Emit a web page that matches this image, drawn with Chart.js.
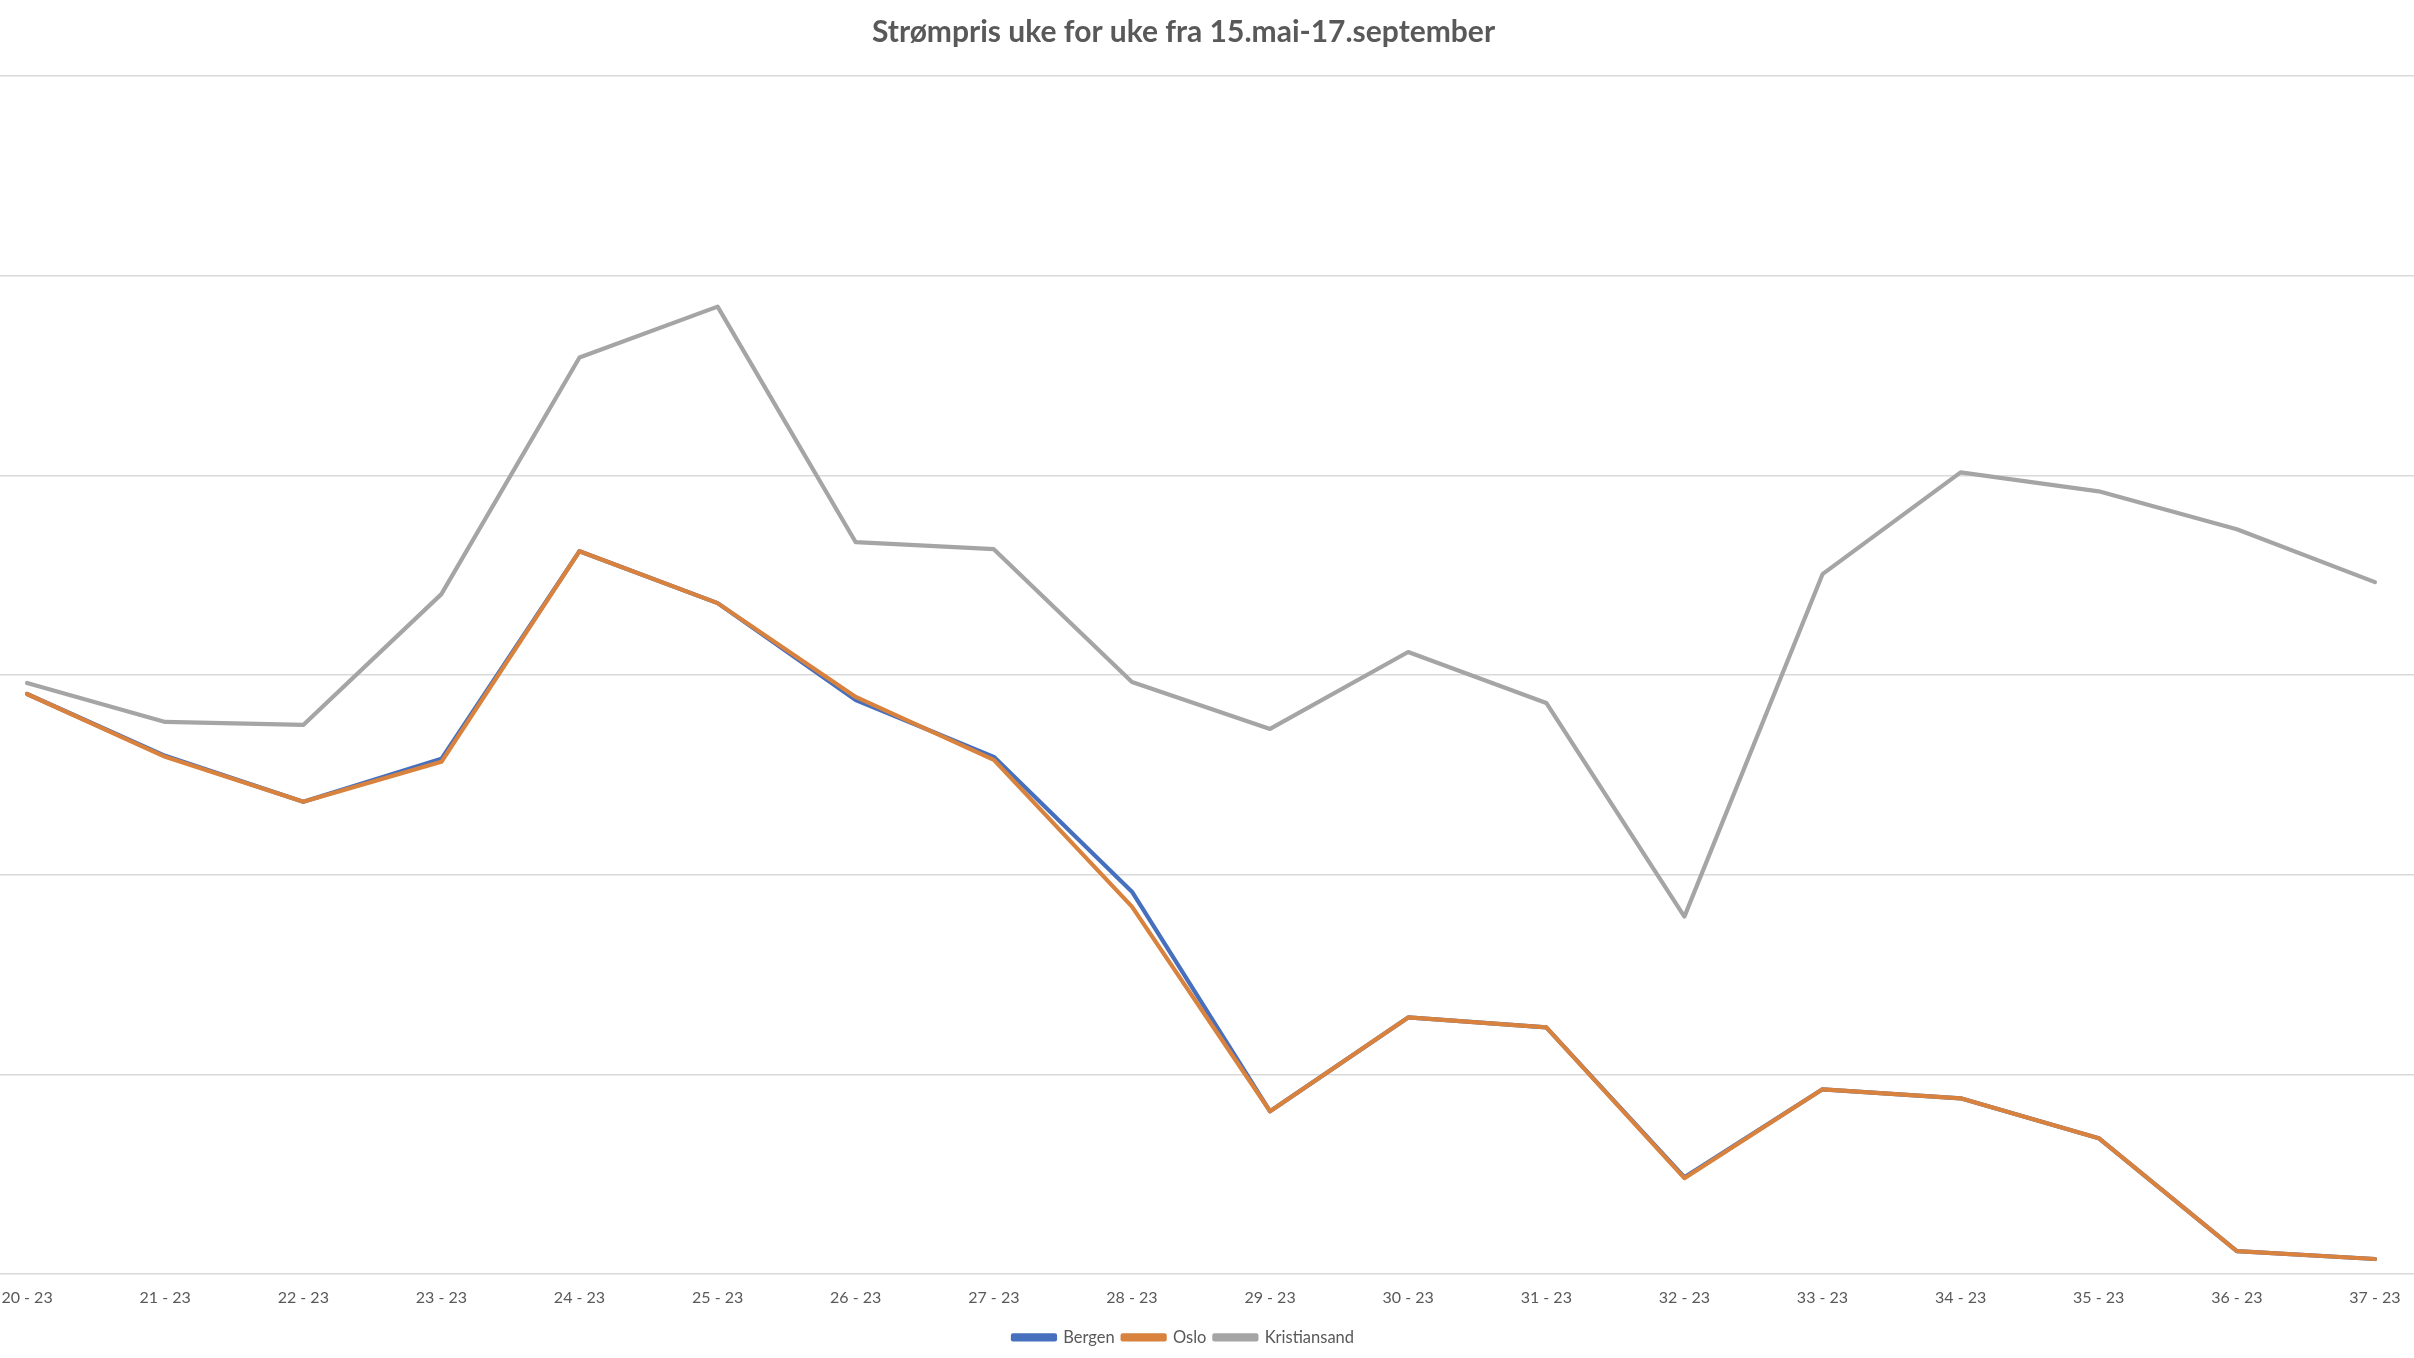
<!DOCTYPE html>
<html>
<head>
<meta charset="utf-8">
<script src="https://cdn.jsdelivr.net/npm/chart.js@4/dist/chart.umd.min.js"></script>
<style>
  html, body { margin: 0; padding: 0; background: #ffffff; overflow: hidden; }
  #wrap { position: absolute; left: -77px; top: 0; width: 2521px; height: 1358px; }
</style>
</head>
<body>
<div id="wrap"><canvas id="c"></canvas></div>
<script>
const categories = ["20 - 23","21 - 23","22 - 23","23 - 23","24 - 23","25 - 23","26 - 23","27 - 23","28 - 23","29 - 23","30 - 23","31 - 23","32 - 23","33 - 23","34 - 23","35 - 23","36 - 23","37 - 23"];
const bergen = [0.581,0.519,0.473,0.516,0.724,0.672,0.575,0.518,0.383,0.163,0.257,0.247,0.097,0.185,0.176,0.136,0.023,0.015];
const oslo = [0.581,0.518,0.473,0.513,0.724,0.672,0.578,0.515,0.368,0.163,0.257,0.247,0.096,0.185,0.176,0.136,0.023,0.015];
const kristiansand = [0.592,0.553,0.550,0.681,0.918,0.969,0.733,0.726,0.593,0.546,0.623,0.572,0.358,0.701,0.803,0.784,0.746,0.693];
const seriesNames = ["Bergen","Oslo","Kristiansand"];
const titleText = "Strømpris uke for uke fra 15.mai-17.september";

const textColor = "#595959";
new Chart(document.getElementById("c"), {
  type: "line",
  data: {
    labels: categories,
    datasets: [
      { label: seriesNames[0], data: bergen, borderColor: "#4670BE", backgroundColor: "#4670BE", order: 2 },
      { label: seriesNames[1], data: oslo, borderColor: "#D8823E", backgroundColor: "#D8823E", order: 1 },
      { label: seriesNames[2], data: kristiansand, borderColor: "#A5A5A5", backgroundColor: "#A5A5A5", order: 0 }
    ]
  },
  options: {
    responsive: true,
    maintainAspectRatio: false,
    animation: false,
    layout: { padding: { left: 0, right: 0, top: 14, bottom: 2.3 } },
    elements: {
      line: { borderWidth: 4.2, tension: 0, borderCapStyle: "round", borderJoinStyle: "round" },
      point: { radius: 0, hoverRadius: 0 }
    },
    scales: {
      x: {
        offset: true,
        grid: { display: false, drawTicks: false },
        border: { display: false },
        ticks: { color: textColor, font: { family: "Lato, 'Open Sans', sans-serif", size: 16 }, padding: 14, maxRotation: 0, autoSkip: false }
      },
      y: {
        min: 0, max: 1.2,
        afterFit: (axis) => { axis.width = 35; },
        grid: { color: "#D9D9D9", lineWidth: 1.5, drawTicks: false },
        border: { display: false },
        ticks: { display: false, stepSize: 0.2 }
      }
    },
    plugins: {
      title: {
        display: true,
        text: titleText,
        color: textColor,
        font: { family: "Lato, 'Open Sans', sans-serif", size: 30, weight: "bold" },
        padding: { top: 0, bottom: 26 }
      },
      legend: {
        position: "bottom",
        labels: {
          color: textColor,
          font: { family: "Lato, 'Open Sans', sans-serif", size: 16.5 },
          boxWidth: 42,
          boxHeight: 4,
          padding: 8,
          sort: (a, b) => a.datasetIndex - b.datasetIndex
        }
      },
      tooltip: { enabled: false }
    }
  }
});
</script>
</body>
</html>
